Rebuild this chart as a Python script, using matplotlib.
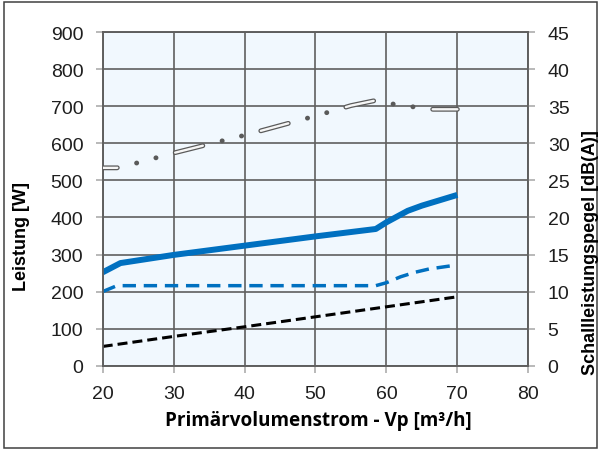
import matplotlib
matplotlib.use("Agg")
import matplotlib.pyplot as plt
from matplotlib.patches import Rectangle

plt.rcParams['lines.scale_dashes'] = False

# Primärvolumenstrom [m³/h] und Messwerte
x_leistung = [20, 22.5, 30, 40, 50, 58.5, 60, 63, 65, 70]
leistung_gesamt = [252, 277, 299, 324, 349, 369, 387, 418, 432, 461]

x_teil = [20, 22, 58.5, 60, 62, 64, 66, 70]
leistung_teil = [200, 216, 216, 224, 240, 252, 261, 272]

x_schwarz = [20, 30, 40, 50, 60, 70]
leistung_schwarz = [52, 79, 105, 132, 159, 186]

x_schall = [20, 22, 25, 30, 35, 40, 45, 50, 55, 58.5, 61, 64, 66, 70]
schallpegel = [26.7, 26.7, 27.4, 28.7, 29.9, 31.1, 32.4, 33.7, 35.1, 35.8, 35.3, 34.9, 34.6, 34.6]

x_ticks = [20, 30, 40, 50, 60, 70, 80]
y_ticks_w = list(range(0, 1000, 100))
y_ticks_db = list(range(0, 50, 5))

fig = plt.figure(figsize=(6.01, 4.52), dpi=100)
ax = fig.add_axes([0.1709, 0.1887, 0.879 - 0.1709, 0.9265 - 0.1887])
ax2 = ax.twinx()

grid_col = '#5f5f5f'
tick_col = '#a6a6a6'
ax.set_facecolor('#f1f8fe')
ax.set_axisbelow(True)
ax.grid(True, color=grid_col, linewidth=1.2)

blue = '#0070c0'
ax.plot(x_leistung, leistung_gesamt, color=blue, linewidth=4.3,
        solid_capstyle='butt', solid_joinstyle='round', zorder=3)
ax.plot(x_teil, leistung_teil, color=blue, linewidth=2.5,
        linestyle=(0, (9.6, 5.6)), zorder=3)
ax.plot(x_schwarz, leistung_schwarz, color='black', linewidth=2.2,
        linestyle=(0, (7.2, 3.6)), zorder=3)

# hohle Strich-Punkt-Linie: grauer Rand, heller Kern
ax2.plot(x_schall, schallpegel, color='#5a5a5a', linewidth=3.5,
         linestyle=(10, (20.5, 14.3, 0.1, 14.3, 0.1, 14.3)),
         dash_capstyle='round', dash_joinstyle='round', zorder=3)
ax2.plot(x_schall, schallpegel, color='#f6f6f6', linewidth=1.7,
         linestyle=(10, (20.5, 43.1)),
         dash_capstyle='round', dash_joinstyle='round', zorder=4)

ax.set_xlim(20, 80)
ax.set_ylim(0, 900)
ax2.set_ylim(0, 45)
ax.set_xticks(x_ticks)
ax.set_yticks(y_ticks_w)
ax2.set_yticks(y_ticks_db)

for a in (ax, ax2):
    for s in a.spines.values():
        s.set_color(grid_col)
        s.set_linewidth(1.2)
    a.tick_params(direction='out', length=5, width=1.1, color=tick_col,
                  labelsize=14, labelcolor='#1e1e1e', pad=9)
    for lab in a.get_xticklabels() + a.get_yticklabels():
        lab.set_fontfamily('Liberation Sans')

fig.text(0.035, 0.476, 'Leistung [W]', rotation=90, ha='center', va='center',
         fontsize=13, fontweight='bold', family='Liberation Sans')
fig.text(0.983, 0.442, 'Schallleistungspegel [dB(A)]', rotation=90,
         ha='center', va='center', fontsize=13, fontweight='bold',
         family='Liberation Sans')
fig.text(0.529, 0.069, 'Primärvolumenstrom - Vp [m³/h]', ha='center',
         va='center', fontsize=13.6, fontweight='bold', family='Open Sans')

# Rahmen um die ganze Grafik
fig.patches.append(Rectangle((4 / 601, 3 / 452), 593 / 601, 446 / 452,
                             transform=fig.transFigure, fill=False,
                             edgecolor='#404040', linewidth=1.1))

fig.savefig('out.png', dpi=100)
